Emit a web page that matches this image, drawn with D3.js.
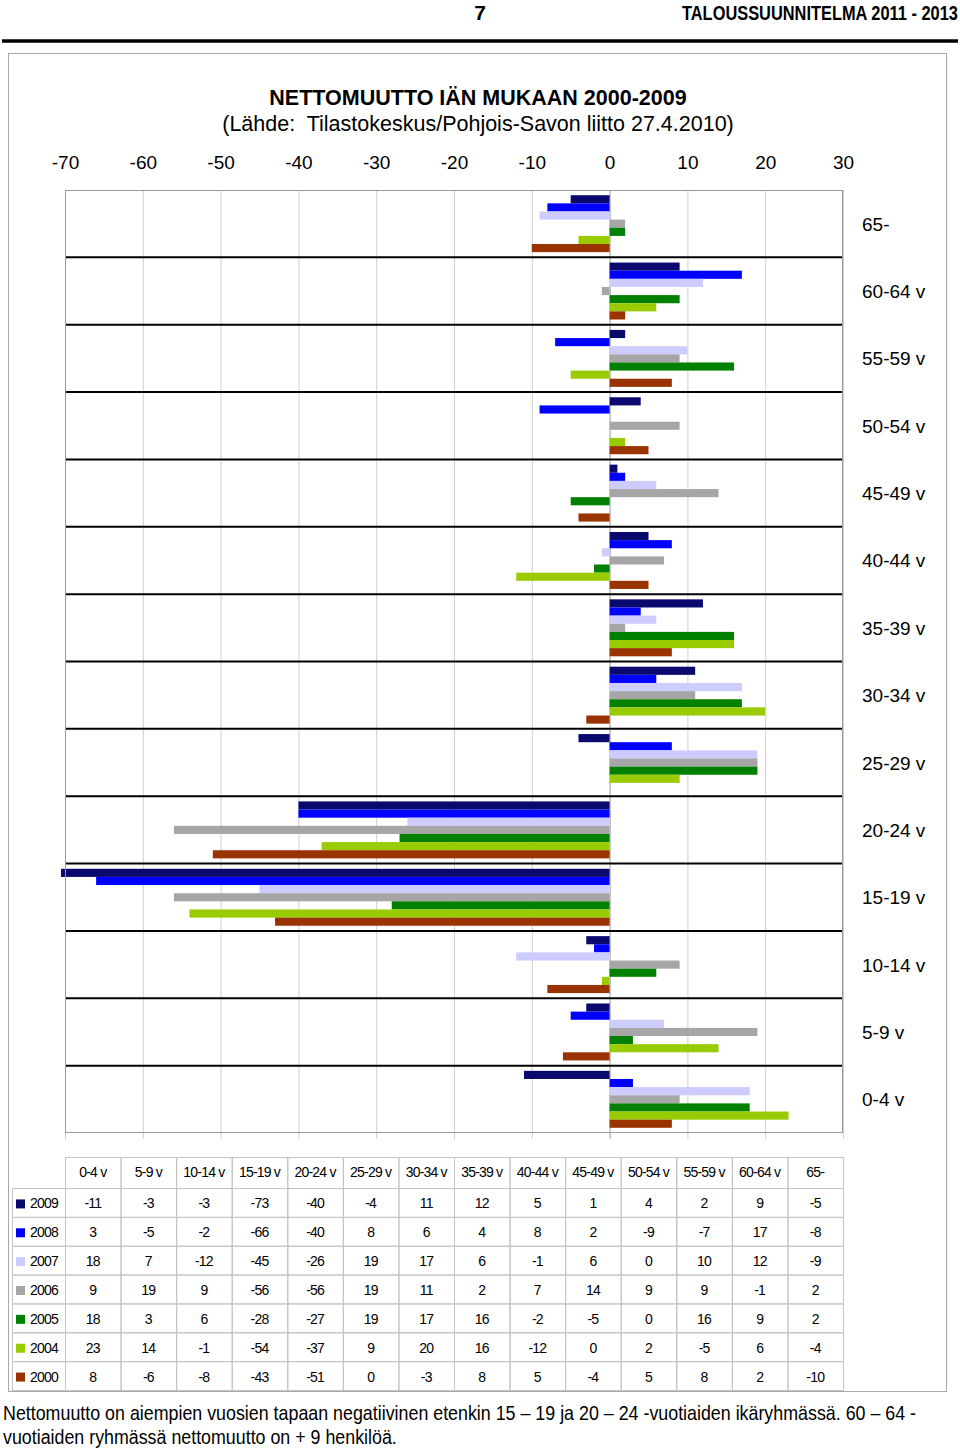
<!DOCTYPE html>
<html><head><meta charset="utf-8">
<script src="https://cdn.jsdelivr.net/npm/d3@7"></script>
<style>body{margin:0;background:#fff}svg{display:block;font-family:"Liberation Sans",Arial,sans-serif}</style>
</head><body>
<script>
const categories = ["0-4 v","5-9 v","10-14 v","15-19 v","20-24 v","25-29 v","30-34 v","35-39 v","40-44 v","45-49 v","50-54 v","55-59 v","60-64 v","65-"];
const years = ["2009","2008","2007","2006","2005","2004","2000"];
const colors = ["#0a0a6e","#0000ff","#ccccff","#a6a6a6","#008000","#99cc00","#993300"];
const v2009 = [-11,-3,-3,-73,-40,-4,11,12,5,1,4,2,9,-5];
const v2008 = [3,-5,-2,-66,-40,8,6,4,8,2,-9,-7,17,-8];
const v2007 = [18,7,-12,-45,-26,19,17,6,-1,6,0,10,12,-9];
const v2006 = [9,19,9,-56,-56,19,11,2,7,14,9,9,-1,2];
const v2005 = [18,3,6,-28,-27,19,17,16,-2,-5,0,16,9,2];
const v2004 = [23,14,-1,-54,-37,9,20,16,-12,0,2,-5,6,-4];
const v2000 = [8,-6,-8,-43,-51,0,-3,8,5,-4,5,8,2,-10];
const series = [v2009,v2008,v2007,v2006,v2005,v2004,v2000];
const xTicks = [-70,-60,-50,-40,-30,-20,-10,0,10,20,30];
const titleText = "NETTOMUUTTO IÄN MUKAAN 2000-2009";
const subtitleText = "(Lähde:  Tilastokeskus/Pohjois-Savon liitto 27.4.2010)";
const headerRight = "TALOUSSUUNNITELMA 2011 - 2013";
const pageNo = "7";
const footer1 = "Nettomuutto on aiempien vuosien tapaan negatiivinen etenkin 15 – 19 ja 20 – 24 -vuotiaiden ikäryhmässä. 60 – 64 -";
const footer2 = "vuotiaiden ryhmässä nettomuutto on + 9 henkilöä.";

const W=960,H=1448;
const svg=d3.select("body").append("svg").attr("width",W).attr("height",H);

// helper: horizontally condensed text fitted to a width
function fitText(txt,x0,y0,width,size,bold,anchor){
  const t=svg.append("text").attr("font-size",size).attr("font-weight",bold?"bold":"normal").text(txt);
  const natural=t.node().getComputedTextLength();
  const s=width/natural;
  const left = anchor==="end" ? x0-width : x0;
  t.attr("transform",`translate(${left},${y0}) scale(${s},1)`);
  return t;
}

// page header
svg.append("text").attr("x",480).attr("y",20).attr("text-anchor","middle").attr("font-weight","bold").attr("font-size",21).text(pageNo);
fitText(headerRight,958,20,276,21,true,"end");
svg.append("line").attr("x1",2).attr("x2",958).attr("y1",41).attr("y2",41).attr("stroke","#000").attr("stroke-width",3.5);

// frame
svg.append("rect").attr("x",8.5).attr("y",53.5).attr("width",938).attr("height",1338).attr("fill","none").attr("stroke","#a8a8a8").attr("stroke-width",1);

// titles
svg.append("text").attr("x",478).attr("y",105).attr("text-anchor","middle").attr("font-weight","bold").attr("font-size",21.5).text(titleText);
svg.append("text").attr("x",478).attr("y",131).attr("text-anchor","middle").attr("font-size",21.5).style("white-space","pre").text(subtitleText);

// scales
const x=d3.scaleLinear().domain([-70,30]).range([65,843]);
const y=d3.scaleBand().domain(categories.slice().reverse()).range([190,1133]);
const yi=d3.scaleBand().domain(years).range([0,y.bandwidth()]).paddingInner(0).paddingOuter(0.64);

// vertical gridlines
svg.append("g").selectAll("line").data(xTicks).join("line")
  .attr("x1",d=>x(d)+0.5).attr("x2",d=>x(d)+0.5).attr("y1",190).attr("y2",1139)
  .attr("stroke",(d)=>d===0?"#9a9a9a":"#cfcfcf").attr("stroke-width",1);
// top axis labels
const ax=d3.axisTop(x).tickValues(xTicks).tickFormat(d=>String(d)).tickSize(0).tickPadding(0);
const axG=svg.append("g").attr("transform","translate(0,169)").call(ax);
axG.select(".domain").remove();
axG.selectAll("text").attr("font-size",19).attr("font-family","Liberation Sans, Arial, sans-serif").attr("fill","#000").attr("dy",0);

// clip
svg.append("clipPath").attr("id","clp").append("rect").attr("x",61).attr("y",185).attr("width",790).attr("height",960);

// bars
const barData=[];
categories.forEach((c,ci)=>series.forEach((s,si)=>barData.push({c,year:years[si],v:s[ci],col:colors[si]})));
svg.append("g").attr("clip-path","url(#clp)").selectAll("rect").data(barData).join("rect")
  .attr("x",d=>x(Math.min(0,d.v))).attr("width",d=>Math.abs(x(d.v)-x(0)))
  .attr("y",d=>y(d.c)+yi(d.year)).attr("height",yi.bandwidth())
  .attr("fill",d=>d.col);

// category separators
const bounds=categories.slice().reverse().map(c=>y(c)).slice(1);
svg.append("g").selectAll("line").data(bounds).join("line")
  .attr("x1",65).attr("x2",843).attr("y1",d=>d).attr("y2",d=>d).attr("stroke","#000").attr("stroke-width",2);
// plot border
svg.append("rect").attr("x",65.5).attr("y",190.5).attr("width",777).attr("height",942).attr("fill","none").attr("stroke","#9a9a9a");

// category labels
svg.append("g").selectAll("text").data(categories).join("text")
  .attr("x",862).attr("y",d=>y(d)+y.bandwidth()/2+7).attr("font-size",19).text(d=>d);

// table
const tx=d3.scaleBand().domain(categories).range([65,843]);
const rowTop=1188, rowH=(1390-1188)/7;
const tg=svg.append("g").attr("font-size",14).attr("letter-spacing",-0.8);
const lineC="#c4c4c4";
tg.selectAll("rect.h").data(categories).join("rect").attr("class","h")
  .attr("x",d=>tx(d)+0.5).attr("y",1157.5).attr("width",tx.bandwidth()).attr("height",rowTop-1157)
  .attr("fill","none").attr("stroke",lineC);
tg.selectAll("text.h").data(categories).join("text").attr("class","h")
  .attr("x",d=>tx(d)+tx.bandwidth()/2).attr("y",1177).attr("text-anchor","middle").text(d=>d);
years.forEach((yr,ri)=>{
  const ry=rowTop+ri*rowH;
  tg.append("rect").attr("x",12.5).attr("y",ry+0.5).attr("width",65-12).attr("height",rowH).attr("fill","none").attr("stroke",lineC);
  tg.append("rect").attr("x",16).attr("y",ry+rowH/2-3).attr("width",9).attr("height",9).attr("fill",colors[ri]);
  tg.append("text").attr("x",30).attr("y",ry+rowH/2+6).text(yr);
  tg.selectAll(null).data(categories).join("rect")
    .attr("x",d=>tx(d)+0.5).attr("y",ry+0.5).attr("width",tx.bandwidth()).attr("height",rowH)
    .attr("fill","none").attr("stroke",lineC);
  tg.selectAll(null).data(categories).join("text")
    .attr("x",d=>tx(d)+tx.bandwidth()/2).attr("y",ry+rowH/2+6).attr("text-anchor","middle")
    .text((d,ci)=>series[ri][ci]);
});

// footer text
fitText(footer1,3,1420,914,21,false,"start");
fitText(footer2,3,1444,394,21,false,"start");
</script>
</body></html>
